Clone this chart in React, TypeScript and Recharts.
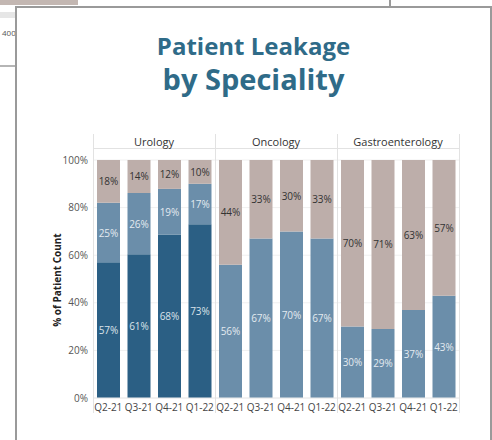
import { Bar, BarChart, CartesianGrid, LabelList, XAxis, YAxis } from "recharts";

// quarters shown in every speciality panel
const quarters = ["Q2-21", "Q3-21", "Q4-21", "Q1-22"];
const specialities = ["Urology", "Oncology", "Gastroenterology"];

// share of patient count (%), bottom to top
const urologyDark = [57, 61, 68, 73];
const urologyMid = [25, 26, 19, 17];
const urologyLight = [18, 14, 12, 10];

const oncologyMid = [56, 67, 70, 67];
const oncologyLight = [44, 33, 30, 33];

const gastroMid = [30, 29, 37, 43];
const gastroLight = [70, 71, 63, 57];

const yTicks = [0, 0.2, 0.4, 0.6, 0.8, 1];

const DARK = "#2b5f84";
const MID = "#6b8eaa";
const LIGHT = "#bdaeaa";
const TITLE = "#2f6b88";
const FONT = "'Open Sans', 'Noto Sans', sans-serif";

const data = [
  ...quarters.map((q, i) => ({
    key: `uro-${q}`,
    quarter: q,
    dark: urologyDark[i],
    mid: urologyMid[i],
    light: urologyLight[i],
  })),
  ...quarters.map((q, i) => ({
    key: `onc-${q}`,
    quarter: q,
    dark: 0,
    mid: oncologyMid[i],
    light: oncologyLight[i],
  })),
  ...quarters.map((q, i) => ({
    key: `gas-${q}`,
    quarter: q,
    dark: 0,
    mid: gastroMid[i],
    light: gastroLight[i],
  })),
];

// plot area in page pixels
const PLOT_LEFT = 93;
const PLOT_RIGHT = 459;
const PLOT_TOP = 160;
const PLOT_BOTTOM = 398;
const PANEL_W = (PLOT_RIGHT - PLOT_LEFT) / specialities.length;

function segmentLabel(color: string) {
  return (props: any) => {
    const { x, y, width, height, value } = props;
    if (!value) return null;
    return (
      <text
        x={Number(x) + Number(width) / 2}
        y={Number(y) + Number(height) / 2}
        textAnchor="middle"
        dominantBaseline="central"
        fontSize={10}
        fontFamily={FONT}
        fill={color}
      >
        {value}%
      </text>
    );
  };
}

export default function App() {
  return (
    <div
      style={{
        position: "absolute",
        left: 0,
        top: 0,
        width: 492,
        height: 440,
        overflow: "hidden",
        background: "#fff",
        fontFamily: FONT,
      }}
    >
      {/* bits of the window behind */}
      <div style={{ position: "absolute", left: 0, top: 0, width: 78, height: 5, background: "#c3b7b2" }} />
      <div style={{ position: "absolute", left: 0, top: 12, width: 16, height: 6, background: "#e6e6e6" }} />
      <div style={{ position: "absolute", left: 2, top: 27, fontSize: 8, color: "#555" }}>400</div>
      <div style={{ position: "absolute", left: 0, top: 65, width: 16, height: 2, background: "#b5b5b5" }} />
      <div style={{ position: "absolute", left: 389, top: 0, width: 2, height: 7, background: "#9a9a9a" }} />

      {/* card */}
      <div
        style={{
          position: "absolute",
          left: 15,
          top: 6,
          width: 473,
          height: 460,
          border: "2px solid #9a9a9a",
          background: "#fff",
        }}
      />

      <div
        style={{
          position: "absolute",
          left: 15,
          width: 477,
          top: 31,
          textAlign: "center",
          color: TITLE,
          fontWeight: 700,
          fontSize: 24,
          lineHeight: "30px",
        }}
      >
        Patient Leakage
      </div>
      <div
        style={{
          position: "absolute",
          left: 15,
          width: 477,
          top: 61,
          textAlign: "center",
          color: TITLE,
          fontWeight: 700,
          fontSize: 29,
          lineHeight: "36px",
        }}
      >
        by Speciality
      </div>

      <div style={{ position: "absolute", left: 0, top: 0 }}>
        <BarChart
          width={492}
          height={440}
          data={data}
          stackOffset="expand"
          margin={{ top: PLOT_TOP, right: 492 - PLOT_RIGHT, bottom: 22, left: 43 }}
        >
          <CartesianGrid vertical={false} stroke="#f0f0f0" />
          <XAxis
            dataKey="key"
            tickFormatter={(_v: string, i: number) => data[i]?.quarter ?? ""}
            interval={0}
            tickLine={false}
            axisLine={{ stroke: "#ececec" }}
            tickSize={3}
            tickMargin={3}
            height={20}
            tick={{ fontSize: 10, fill: "#444", fontFamily: FONT }}
          />
          <YAxis
            domain={[0, 1]}
            ticks={yTicks}
            tickFormatter={(v: number) => `${Math.round(v * 100)}%`}
            tickLine={false}
            axisLine={false}
            tickSize={3}
            tickMargin={2}
            width={50}
            tick={{ fontSize: 10, fill: "#555", fontFamily: FONT }}
          />
          <Bar dataKey="dark" stackId="a" fill={DARK} barSize={23} isAnimationActive={false}>
            <LabelList dataKey="dark" content={segmentLabel("#dbe3ea")} />
          </Bar>
          <Bar dataKey="mid" stackId="a" fill={MID} barSize={23} isAnimationActive={false}>
            <LabelList dataKey="mid" content={segmentLabel("#e3eaf0")} />
          </Bar>
          <Bar dataKey="light" stackId="a" fill={LIGHT} barSize={23} isAnimationActive={false}>
            <LabelList dataKey="light" content={segmentLabel("#333")} />
          </Bar>
        </BarChart>
      </div>

      {/* panel frames and headers */}
      {[0, 1, 2, 3].map((i) => (
        <div
          key={i}
          style={{
            position: "absolute",
            left: PLOT_LEFT + i * PANEL_W,
            top: 134,
            width: 1,
            height: 413 - 134,
            background: "#e2e2e2",
          }}
        />
      ))}
      <div
        style={{
          position: "absolute",
          left: PLOT_LEFT,
          top: 148,
          width: PLOT_RIGHT - PLOT_LEFT,
          height: 1,
          background: "#e2e2e2",
        }}
      />
      {specialities.map((s, i) => (
        <div
          key={s}
          style={{
            position: "absolute",
            left: PLOT_LEFT + i * PANEL_W,
            width: PANEL_W,
            top: 135,
            textAlign: "center",
            fontSize: 11,
            lineHeight: "14px",
            color: "#333",
          }}
        >
          {s}
        </div>
      ))}

      <div
        style={{
          position: "absolute",
          left: 57 - 60,
          top: 280 - 7,
          width: 120,
          textAlign: "center",
          fontSize: 10,
          lineHeight: "14px",
          fontWeight: 700,
          color: "#222",
          transform: "rotate(-90deg)",
        }}
      >
        % of Patient Count
      </div>
    </div>
  );
}
